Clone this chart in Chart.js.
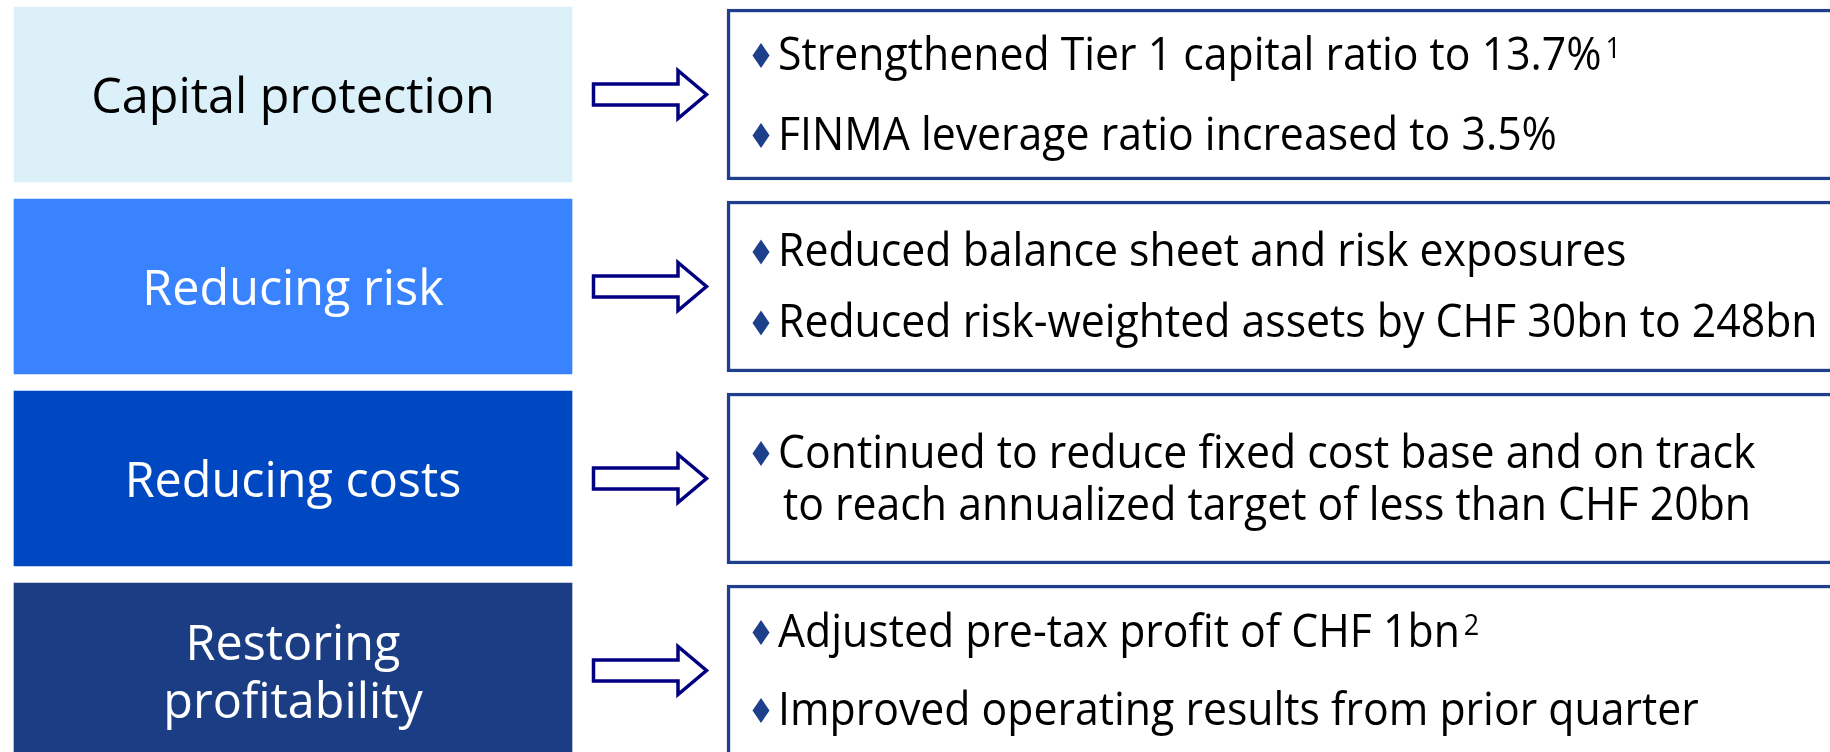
<!DOCTYPE html>
<html>
<head>
<meta charset="utf-8">
<style>
  html, body { margin: 0; padding: 0; background: #ffffff; overflow: hidden; }
  #wrap { width: 1830px; height: 752px; }
</style>
<script src="https://cdn.jsdelivr.net/npm/chart.js@4.4.1/dist/chart.umd.min.js"></script>
</head>
<body>
<div id="wrap"><canvas id="summary" width="1830" height="752"></canvas></div>
<script>
// rows of the slide (left label, bullets on the right)
const categories = [["Capital protection"], ["Reducing risk"], ["Reducing costs"], ["Restoring", "profitability"]];
const bullets = [
  [["Strengthened Tier 1 capital ratio to 13.7%"], ["FINMA leverage ratio increased to 3.5%"]],
  [["Reduced balance sheet and risk exposures"], ["Reduced risk-weighted assets by CHF 30bn to 248bn"]],
  [["Continued to reduce fixed cost base and on track", "to reach annualized target of less than CHF 20bn"]],
  [["Adjusted pre-tax profit of CHF 1bn"], ["Improved operating results from prior quarter"]]
];
const footnotes = [["1", ""], ["", ""], [""], ["2", ""]];
const boxColors = ["#dcf0fa", "#3a83ff", "#0048c1", "#1b3d84"];
const labelColors = ["#000000", "#ffffff", "#ffffff", "#ffffff"];

// layout (x axis runs 0..1830, rows sit at y = 0..3)
const LEFT_COL = [14, 572];
const RIGHT_COL = [727, 1900];
const LINE_GAP = [80, 71, 52, 78];
const NAVY = "#1e3f8b";
const FONT = "'Open Sans', sans-serif";
const LABEL_SIZE = 48.5;
const TEXT_SIZE = 46;
const TEXT_SQUEEZE = 0.93;
const CAP = 0.714;

const rowPlugin = {
  id: "rowText",
  afterDatasetsDraw(chart) {
    const { ctx, scales: { x, y } } = chart;
    ctx.save();
    categories.forEach((lines, i) => {
      const cy = y.getPixelForValue(i);

      // arrow between the columns
      const x0 = x.getPixelForValue(593.5), xh = x.getPixelForValue(678), xt = x.getPixelForValue(706.5);
      ctx.beginPath();
      ctx.moveTo(x0, cy - 10.5);
      ctx.lineTo(xh, cy - 10.5);
      ctx.lineTo(xh, cy - 24);
      ctx.lineTo(xt, cy);
      ctx.lineTo(xh, cy + 24);
      ctx.lineTo(xh, cy + 10.5);
      ctx.lineTo(x0, cy + 10.5);
      ctx.closePath();
      ctx.fillStyle = "#ffffff";
      ctx.fill();
      ctx.lineWidth = 3.5;
      ctx.lineJoin = "miter";
      ctx.strokeStyle = "#000080";
      ctx.stroke();

      // left label
      ctx.font = LABEL_SIZE + "px " + FONT;
      ctx.fillStyle = labelColors[i];
      ctx.textAlign = "center";
      ctx.textBaseline = "alphabetic";
      const lx = x.getPixelForValue((LEFT_COL[0] + LEFT_COL[1]) / 2);
      const lstep = 58;
      lines.forEach((t, k) => {
        const off = (k - (lines.length - 1) / 2) * lstep;
        ctx.fillText(t, lx, cy + 1 + off + LABEL_SIZE * CAP / 2);
      });

      // bullets
      const items = bullets[i];
      const textLines = [];
      items.forEach((b, bi) => b.forEach((t, li) => textLines.push({ t, first: li === 0, note: li === 0 ? footnotes[i][bi] : "" })));
      const step = LINE_GAP[i];
      ctx.textAlign = "left";
      textLines.forEach((ln, k) => {
        const capMid = cy - 1 + (k - (textLines.length - 1) / 2) * step;
        const tx = x.getPixelForValue(ln.first ? 778 : 783);
        if (ln.first) {
          const bx = x.getPixelForValue(761), by = capMid + 2;
          ctx.beginPath();
          ctx.moveTo(bx, by - 12.5);
          ctx.lineTo(bx + 8.5, by);
          ctx.lineTo(bx, by + 12.5);
          ctx.lineTo(bx - 8.5, by);
          ctx.closePath();
          ctx.fillStyle = NAVY;
          ctx.fill();
        }
        ctx.fillStyle = "#000000";
        ctx.save();
        ctx.translate(tx, capMid + TEXT_SIZE * CAP / 2);
        ctx.scale(TEXT_SQUEEZE, 1);
        ctx.font = TEXT_SIZE + "px " + FONT;
        ctx.fillText(ln.t, 0, 0);
        if (ln.note) {
          const w = ctx.measureText(ln.t).width;
          ctx.font = "29px " + FONT;
          ctx.fillText(ln.note, w + 4, -TEXT_SIZE * CAP + 29 * CAP);
        }
        ctx.restore();
      });
    });
    ctx.restore();
  }
};

new Chart(document.getElementById("summary"), {
  type: "bar",
  data: {
    datasets: [
      {
        data: categories.map((c, i) => ({ x: LEFT_COL, y: i })),
        backgroundColor: boxColors,
        borderWidth: 0,
        barThickness: 175,
        grouped: false
      },
      {
        data: categories.map((c, i) => ({ x: RIGHT_COL, y: i })),
        backgroundColor: "#ffffff",
        borderColor: NAVY,
        borderWidth: 3.5,
        borderSkipped: false,
        barThickness: 171,
        grouped: false
      }
    ]
  },
  options: {
    indexAxis: "y",
    responsive: false,
    animation: false,
    devicePixelRatio: 1,
    layout: { padding: 0 },
    scales: {
      x: { type: "linear", min: 0, max: 1830, offset: false, display: false },
      y: { type: "linear", min: -94.5 / 192, max: (752 - 94.5) / 192, reverse: true, offset: false, display: false }
    },
    plugins: { legend: { display: false }, tooltip: { enabled: false } }
  },
  plugins: [rowPlugin]
});
</script>
</body>
</html>
